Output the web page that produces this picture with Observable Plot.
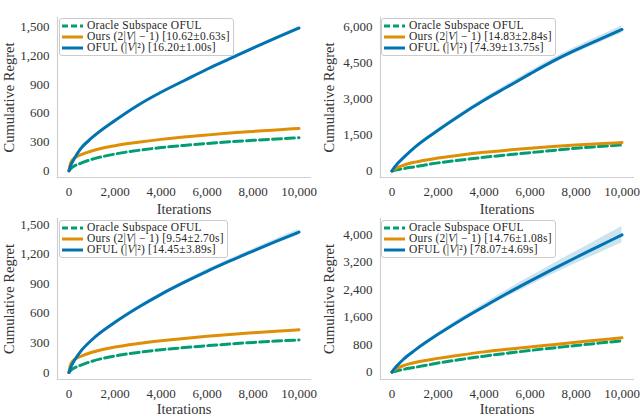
<!DOCTYPE html>
<html><head><meta charset="utf-8">
<script src="https://cdn.jsdelivr.net/npm/d3@7"></script>
<script src="https://cdn.jsdelivr.net/npm/@observablehq/plot@0.6"></script>
<style>
body{margin:0;background:#fff;}
#wrap{position:relative;width:640px;height:416px;overflow:hidden;font-family:"Liberation Serif","DejaVu Serif","Times New Roman",Times,serif;}
.panel{position:absolute;width:320px;height:216px;}
.panel svg{overflow:visible;}
.panel svg text{font-family:"Liberation Serif","DejaVu Serif","Times New Roman",Times,serif;}
[aria-label="x-axis label"] text,[aria-label="y-axis label"] text{font-size:14.5px;}
.legend{position:absolute;background:rgba(255,255,255,0.85);border:1px solid #cccccc;border-radius:3px;padding:1px 3px 1px 2px;font-size:11.5px;letter-spacing:0.25px;color:#262626;white-space:nowrap;}
.legend .row{height:11.2px;line-height:11.2px;display:flex;align-items:center;}
.legend svg{margin-right:4px;flex:none;overflow:visible;}
</style></head>
<body><div id="wrap"></div>
<script>
// ---- data ----
const T = [0, 50, 100, 250, 500, 1000, 2000, 3000, 4000, 5000, 6000, 7000, 8000, 9000, 10000];
const xTicks = [0, 2000, 4000, 6000, 8000, 10000];

// panel 1 (top-left)
const oracle1 = [0, 15, 28, 52, 78, 120, 175, 213, 242, 265, 285, 303, 318, 332, 345];
const ours1   = [0, 65, 95, 135, 165, 208, 262, 298, 328, 353, 374, 394, 411, 427, 442];
const oful1   = [0, 38, 68, 135, 228, 345, 525, 685, 820, 940, 1060, 1170, 1280, 1387, 1490];
const band1   = [0, 1, 2, 3, 4, 5, 6, 7, 8, 9, 10, 11, 12, 13, 15];
const yTicks1 = [0, 300, 600, 900, 1200, 1500];
const times1  = ["10.62±0.63s", "16.20±1.00s"];

// panel 2 (top-right)
const oracle2 = [0, 12, 25, 55, 100, 180, 340, 460, 570, 670, 765, 860, 950, 1020, 1085];
const ours2   = [0, 40, 70, 150, 240, 370, 540, 670, 780, 870, 950, 1020, 1080, 1135, 1185];
const oful2   = [0, 80, 150, 320, 560, 1000, 1700, 2350, 2950, 3500, 4050, 4580, 5050, 5480, 5900];
const band2   = [0, 5, 10, 15, 25, 35, 50, 65, 80, 95, 105, 115, 125, 140, 155];
const yTicks2 = [0, 1500, 3000, 4500, 6000];
const times2  = ["14.83±2.84s", "74.39±13.75s"];

// panel 3 (bottom-left)
const oracle3 = [0, 14, 26, 48, 73, 114, 167, 203, 230, 252, 271, 289, 304, 318, 330];
const ours3   = [0, 65, 95, 133, 162, 205, 258, 293, 321, 345, 366, 385, 402, 418, 433];
const oful3   = [0, 36, 64, 128, 212, 332, 508, 658, 792, 912, 1025, 1130, 1230, 1328, 1422];
const band3   = [0, 1, 2, 3, 5, 7, 10, 12, 14, 16, 18, 20, 22, 25, 28];
const yTicks3 = [0, 300, 600, 900, 1200, 1500];
const times3  = ["9.54±2.70s", "14.45±3.89s"];

// panel 4 (bottom-right)
const oracle4 = [0, 10, 20, 45, 80, 140, 265, 370, 465, 550, 630, 705, 775, 845, 910];
const ours4   = [0, 35, 60, 120, 190, 280, 400, 500, 590, 665, 730, 800, 870, 935, 1000];
const oful4   = [0, 50, 95, 210, 375, 640, 1100, 1520, 1910, 2290, 2650, 3000, 3340, 3670, 4000];
const band4   = [0, 3, 5, 10, 15, 25, 45, 65, 85, 105, 125, 150, 175, 205, 240];
const yTicks4 = [0, 800, 1600, 2400, 3200, 4000];
const times4  = ["14.76±1.08s", "78.07±4.69s"];

const C = {oracle: "#029e73", ours: "#de8f05", oful: "#0173b2"};
const FONT = '"Liberation Serif", "DejaVu Serif", "Times New Roman", Times, serif';
const fmt = d3.format(",");
const wrap = document.getElementById("wrap");

const panels = [
  {oracle: oracle1, ours: ours1, oful: oful1, band: band1, yTicks: yTicks1, times: times1, yDomain: [-70, 1600],
   left: 0, top: 0, mt: 17, mb: 39, ml: 57, mr: 10, legend: [59, 18]},
  {oracle: oracle2, ours: ours2, oful: oful2, band: band2, yTicks: yTicks2, times: times2, yDomain: [-270, 6400],
   left: 320, top: 0, mt: 17, mb: 39, ml: 60, mr: 7, legend: [381, 18]},
  {oracle: oracle3, ours: ours3, oful: oful3, band: band3, yTicks: yTicks3, times: times3, yDomain: [-71, 1560],
   left: 0, top: 200, mt: 18, mb: 37, ml: 57, mr: 10, legend: [59, 220]},
  {oracle: oracle4, ours: ours4, oful: oful4, band: band4, yTicks: yTicks4, times: times4, yDomain: [-215, 4475],
   left: 320, top: 200, mt: 18, mb: 37, ml: 60, mr: 7, legend: [381, 220]}
];

panels.forEach(p => {
  const data = T.map((t, k) => ({t, oracle: p.oracle[k], ours: p.ours[k], oful: p.oful[k],
    lo: p.oful[k] - p.band[k], hi: p.oful[k] + p.band[k]}));
  const chart = Plot.plot({
    width: 320, height: 216,
    marginTop: p.mt, marginBottom: p.mb, marginLeft: p.ml, marginRight: p.mr,
    style: {fontFamily: FONT, fontSize: "13px", background: "transparent", color: "#333", overflow: "visible"},
    x: {domain: [-500, 10500]},
    y: {domain: p.yDomain},
    marks: [
      Plot.frame({anchor: "left", stroke: "#cfcfcf", strokeWidth: 1.2}),
      Plot.frame({anchor: "bottom", stroke: "#cfcfcf", strokeWidth: 1.2}),
      Plot.areaY(data, {x: "t", y1: "lo", y2: "hi", fill: C.oful, fillOpacity: 0.2, curve: "monotone-x"}),
      Plot.lineY(data, {x: "t", y: "oracle", stroke: C.oracle, strokeWidth: 3, strokeDasharray: "9,4", curve: "monotone-x"}),
      Plot.lineY(data, {x: "t", y: "ours", stroke: C.ours, strokeWidth: 3, curve: "monotone-x"}),
      Plot.lineY(data, {x: "t", y: "oful", stroke: C.oful, strokeWidth: 3, curve: "monotone-x"}),
      Plot.axisX({ticks: xTicks, tickFormat: fmt, tickSize: 0, tickPadding: 9, label: "Iterations", labelAnchor: "center", labelArrow: "none"}),
      Plot.axisY({ticks: p.yTicks, tickFormat: fmt, tickSize: 0, tickPadding: 8, label: "Cumulative Regret", labelAnchor: "center", labelArrow: "none"})
    ]
  });
  const div = document.createElement("div");
  div.className = "panel";
  div.style.left = p.left + "px";
  div.style.top = p.top + "px";
  div.appendChild(chart);
  wrap.appendChild(div);

  // legend
  const lg = document.createElement("div");
  lg.className = "legend";
  lg.style.left = p.legend[0] + "px";
  lg.style.top = p.legend[1] + "px";
  const entries = [
    {color: C.oracle, dash: "6,3", html: "Oracle Subspace OFUL"},
    {color: C.ours, dash: null, html: `Ours (2|<i>V</i>| − 1) [${p.times[0]}]`},
    {color: C.oful, dash: null, html: `OFUL (|<i>V</i>|²) [${p.times[1]}]`}
  ];
  entries.forEach(e => {
    const row = document.createElement("div");
    row.className = "row";
    row.innerHTML = `<svg width="21" height="6"><line x1="0" y1="3" x2="21" y2="3" stroke="${e.color}" stroke-width="3" ${e.dash ? `stroke-dasharray="${e.dash}"` : ""}/></svg><span>${e.html}</span>`;
    lg.appendChild(row);
  });
  wrap.appendChild(lg);
});
</script></body></html>
